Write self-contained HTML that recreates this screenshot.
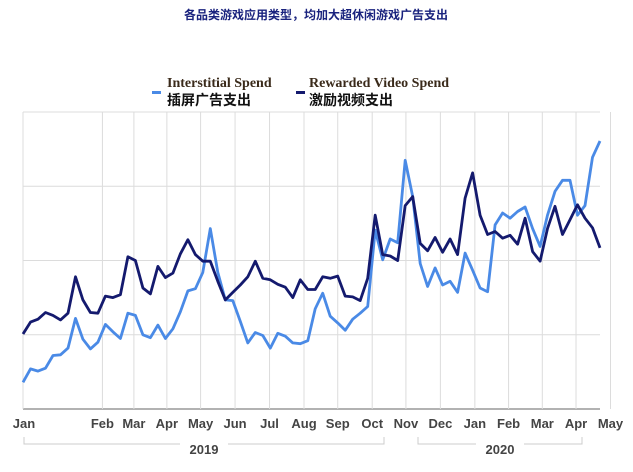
<!DOCTYPE html>
<html><head><meta charset="utf-8"><style>
body{margin:0;background:#fff;}
svg{display:block;font-family:"Liberation Sans","Noto Sans CJK SC",sans-serif;}
</style></head><body>
<svg width="633" height="472" viewBox="0 0 633 472">
<text x="316" y="19" text-anchor="middle" font-size="12" font-weight="bold" fill="#1a237e">各品类游戏应用类型，均加大超休闲游戏广告支出</text>
<g>
<rect x="152" y="91" width="9" height="3" fill="#4a8ae6"/>
<text x="167" y="87" font-family="Liberation Serif,serif" font-weight="bold" font-size="14" fill="#3a2a1a">Interstitial Spend</text>
<text x="167" y="105" font-family="Liberation Sans,Noto Sans CJK SC,sans-serif" font-weight="bold" font-size="14" fill="#111">插屏广告支出</text>
<rect x="296" y="91" width="9" height="3" fill="#141a6e"/>
<text x="309" y="87" font-family="Liberation Serif,serif" font-weight="bold" font-size="14" fill="#3a2a1a">Rewarded Video Spend</text>
<text x="309" y="105" font-weight="bold" font-size="14" fill="#111">激励视频支出</text>
</g>
<g id="grid"></g>
<g id="series"></g>
<g id="xaxis"></g>
</svg>
<script>
const monthLabels=["Jan","Feb","Mar","Apr","May","Jun","Jul","Aug","Sep","Oct","Nov","Dec","Jan","Feb","Mar","Apr","May","Jun"];
const monthPos=[0.07,10.6,14.8,19.2,23.7,28.3,32.9,37.5,42,46.6,51.1,55.7,60.3,64.8,69.3,73.8,78.4,83];
const yearLabels=["2019","2020"];
const yTicks=[0,1,2,3,4];
const interstitial=[0.36,0.54,0.51,0.55,0.72,0.73,0.82,1.22,0.94,0.81,0.90,1.14,1.04,0.95,1.29,1.26,1.00,0.96,1.13,0.95,1.08,1.31,1.59,1.62,1.84,2.43,1.84,1.47,1.46,1.18,0.89,1.03,0.99,0.82,1.02,0.98,0.89,0.88,0.92,1.35,1.56,1.25,1.16,1.06,1.21,1.29,1.38,2.41,2.01,2.29,2.24,3.35,2.86,1.96,1.65,1.90,1.67,1.72,1.57,2.10,1.87,1.63,1.58,2.48,2.64,2.57,2.66,2.72,2.43,2.19,2.61,2.93,3.08,3.08,2.61,2.74,3.39,3.61];
const rewarded=[1.01,1.17,1.21,1.30,1.26,1.20,1.29,1.78,1.47,1.30,1.29,1.52,1.50,1.54,2.05,2.00,1.63,1.55,1.92,1.77,1.83,2.09,2.28,2.08,1.99,1.99,1.72,1.47,1.57,1.67,1.78,1.99,1.76,1.74,1.68,1.64,1.50,1.74,1.61,1.61,1.78,1.76,1.79,1.52,1.51,1.46,1.76,2.61,2.08,2.06,2.00,2.74,2.86,2.23,2.13,2.31,2.11,2.29,2.08,2.84,3.18,2.61,2.35,2.39,2.30,2.34,2.22,2.57,2.12,1.99,2.43,2.73,2.35,2.55,2.75,2.57,2.44,2.17];
const X0=23,X1=600,Y0=409,Y1=112,N=interstitial.length;
const xs=i=>X0+i*(X1-X0)/(N-1);
const ys=v=>Y0-(v/4)*(Y0-Y1);
const NS="http://www.w3.org/2000/svg";
function mk(tag,attrs,parent){const e=document.createElementNS(NS,tag);for(const k in attrs)e.setAttribute(k,attrs[k]);parent.appendChild(e);return e;}
const grid=document.getElementById('grid');
yTicks.forEach(t=>{
 const l=mk('line',{x1:X0,x2:X1,y1:ys(t),y2:ys(t),stroke:t===0?'#999':'#dcdcdc','stroke-width':t===0?1.5:1},grid);
 
 
});
mk('line',{x1:X0,x2:X0,y1:Y1,y2:Y0,stroke:'#dcdcdc'},grid);
monthPos.forEach(p=>{
 if(p<1)return;
 const l=mk('line',{x1:xs(p),x2:xs(p),y1:Y1,y2:Y0,stroke:'#dcdcdc'},grid);
 
 
});
const ser=document.getElementById('series');
function line(data,color,name){
 const p=mk('polyline',{points:data.map((v,i)=>xs(i).toFixed(1)+','+ys(v).toFixed(1)).join(' '),fill:'none',stroke:color,'stroke-width':2.8,'stroke-linejoin':'round'},ser);
 
 
}
line(interstitial,'#4a8ae6','interstitial-line');
line(rewarded,'#141a6e','rewarded-line');
const xa=document.getElementById('xaxis');
monthLabels.forEach((m,i)=>{
 const t=mk('text',{x:Math.max(24,xs(monthPos[i])),y:428,'text-anchor':'middle','font-size':13,'font-weight':'bold',fill:'#444'},xa);
 t.textContent=m;
 
 
});
const brackets=[[24,384],[418,582]];
yearLabels.forEach((y,i)=>{
 const [a,b]=brackets[i],c=(a+b)/2;
 const pth=mk('path',{d:`M${a},437 V444 H${c-24} M${c+24},444 H${b} V437`,fill:'none',stroke:'#ccc'},xa);
 
 
 const t=mk('text',{x:c,y:454,'text-anchor':'middle','font-size':13,'font-weight':'bold',fill:'#444'},xa);
 t.textContent=y;
 
 
});
</script>
</body></html>
